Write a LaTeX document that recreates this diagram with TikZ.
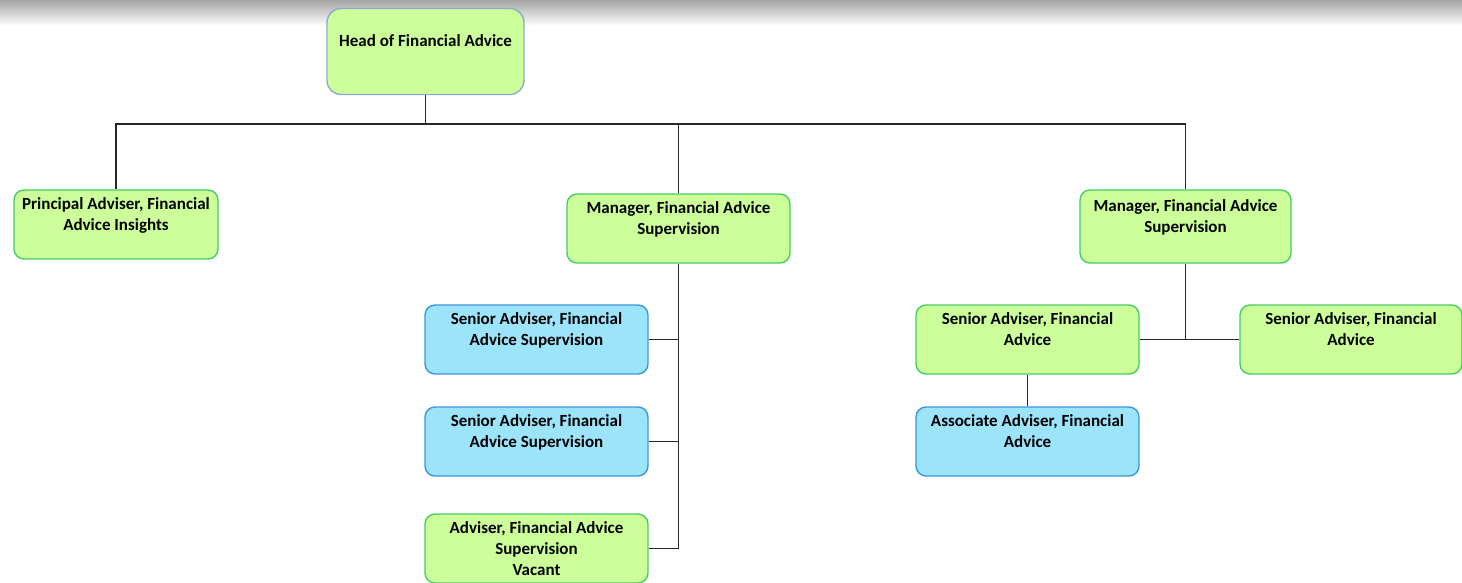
\documentclass[tikz,border=0pt]{standalone}
\usepackage{fontspec}
\setmainfont{Carlito}
\usetikzlibrary{positioning}
\definecolor{boxgreen}{RGB}{204,255,153}
\definecolor{edgegreen}{RGB}{70,205,100}
\definecolor{boxblue}{RGB}{155,228,250}
\definecolor{edgeblue}{RGB}{60,150,220}
\definecolor{edgehead}{RGB}{140,170,210}

\begin{document}
\begin{tikzpicture}[x=1pt, y=-1pt, align=center,
    font=\fontsize{17}{21}\selectfont\bfseries,
    greenbox/.style={rectangle, rounded corners=10pt, draw=edgegreen, fill=boxgreen,
        line width=1.4pt, minimum width=223pt, minimum height=69pt, inner sep=0pt},
    bluebox/.style={greenbox, draw=edgeblue, fill=boxblue},
    wire/.style={line width=1.2pt, black!85}]
    \useasboundingbox (0,0) rectangle (1462,582);
    \shade[top color=black!35, bottom color=white] (0,0) rectangle (1462,26);

    \node[greenbox, draw=edgehead, rounded corners=14pt, minimum width=197pt, minimum height=86pt] at (425.5, 51.5) (head) {Head of Financial Advice\\~};
    \node[greenbox, minimum width=204pt] at (116, 224.5) (pai) {Principal Adviser, Financial\\Advice Insights\\~};
    \node[greenbox] at (678.5, 228.5) (mgr1) {Manager, Financial Advice\\Supervision\\~};
    \node[greenbox, minimum width=211pt, minimum height=73pt] at (1185.5, 226.5) (mgr2) {Manager, Financial Advice\\Supervision\\~};
    \node[bluebox] at (536.5, 339.5) (sa1) {Senior Adviser, Financial\\Advice Supervision\\~};
    \node[bluebox] at (536.5, 441.5) (sa2) {Senior Adviser, Financial\\Advice Supervision\\~};
    \node[greenbox] at (536.5, 548.5) (adv) {Adviser, Financial Advice\\Supervision\\Vacant};
    \node[greenbox] at (1027.5, 339.5) (sa3) {Senior Adviser, Financial\\Advice\\~};
    \node[greenbox, minimum width=222pt] at (1351, 339.5) (sa4) {Senior Adviser, Financial\\Advice\\~};
    \node[bluebox] at (1027.5, 441.5) (assoc) {Associate Adviser, Financial\\Advice\\~};
    \coordinate (bus) at (425.5, 124);

    \draw[wire]                 (head) -- (bus);
    \draw[wire]                 (bus) -| (pai.north);
    \draw[wire]                 (bus) -| (mgr1.north);
    \draw[wire]                 (mgr1.north |- bus) -| (mgr2.north);
    \draw[wire, line width=2pt] (pai.north |- bus) -- (mgr1.north |- bus);
    \draw[wire]                 (mgr1.south) |- (sa1.east);
    \draw[wire]                 (mgr1.south) |- (sa2.east);
    \draw[wire]                 (mgr1.south) |- (adv.east);
    \draw[wire]                 (mgr2.south) |- (sa3.east);
    \draw[wire]                 (mgr2.south) |- (sa4.west);
    \draw[wire]                 (sa3) -- (assoc);
\end{tikzpicture}
\end{document}
